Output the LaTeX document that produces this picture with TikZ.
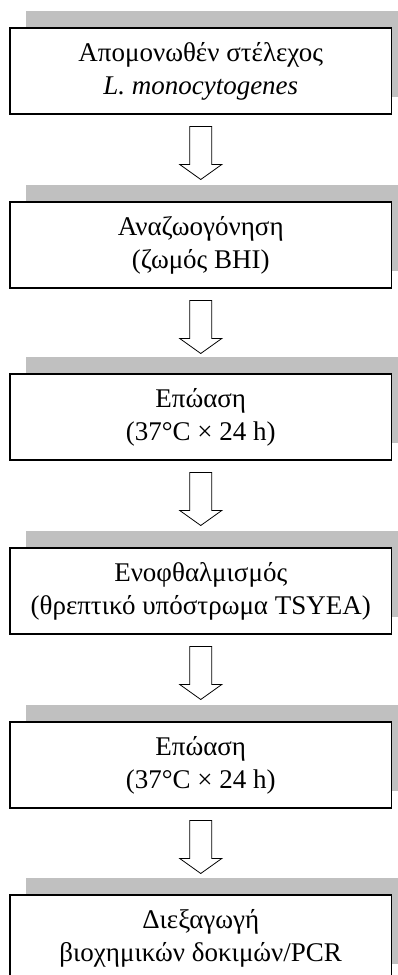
\documentclass[tikz,border=0pt]{standalone}
\usepackage{fontspec}
\setmainfont{Liberation Serif}
\usetikzlibrary{calc,backgrounds}
\definecolor{shadowgray}{RGB}{192,192,192}
\begin{document}
\begin{tikzpicture}[x=1pt,y=1pt,
  stepbox/.style={draw=black, line width=1.5pt, fill=white, minimum width=381.5pt, minimum height=86pt, inner sep=0pt, outer sep=0pt, align=center, font=\fontsize{27}{33}\selectfont},
  shadowfill/.style={fill=shadowgray, draw=none},
  blockarrow/.style={draw=black, line width=0.8pt, fill=white, line join=miter}]
\useasboundingbox (0,0) rectangle (398,975);
\clip (0,0) rectangle (398,975);
\node[stepbox] (b1) at (200.75,904) {Απομονωθέν στέλεχος\\\textit{L. monocytogenes}};
\node[stepbox] (b2) at (200.75,730) {Αναζωογόνηση\\(ζωμός BHI)};
\node[stepbox] (b3) at (200.75,558) {Επώαση\\(37°C × 24 h)};
\node[stepbox] (b4) at (200.75,384) {Ενοφθαλμισμός\\(θρεπτικό υπόστρωμα TSYEA)};
\node[stepbox] (b5) at (200.75,210) {Επώαση\\(37°C × 24 h)};
\node[stepbox] (b6) at (200.75,37) {Διεξαγωγή\\βιοχημικών δοκιμών/PCR};
\begin{pgfonlayer}{background}
\foreach \b in {b1,b2,b3,b4,b5,b6}{
  \fill[shadowfill] ($(\b.north west)+(16,17)$) rectangle ($(\b.south east)+(16,17)$);
}
\end{pgfonlayer}
\foreach \a in {b1,b2,b3,b4,b5}{
  \draw[blockarrow] ($(\a.south)+(-11,-12.5)$) -- ++(22,0) -- ++(0,-38) -- ++(10,0) -- ++(-21,-15) -- ++(-21,15) -- ++(10,0) -- cycle;
}
\end{tikzpicture}
\end{document}
